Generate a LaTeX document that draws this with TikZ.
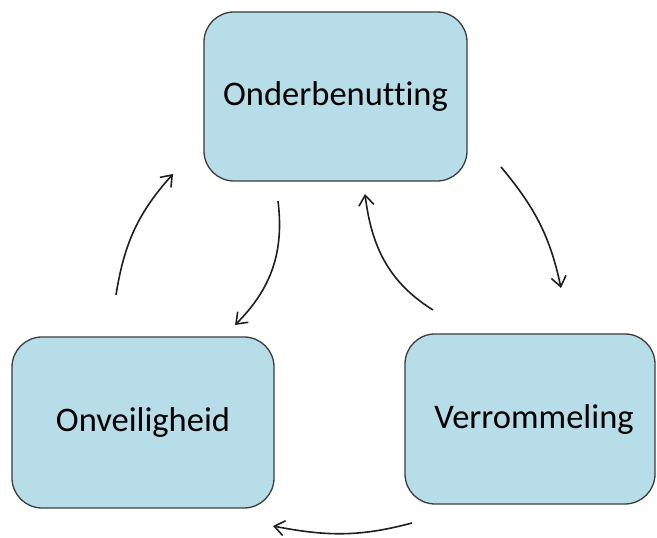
\documentclass[tikz,border=0pt]{standalone}
\usepackage{fontspec}
\setmainfont{Carlito}[RawFeature=-liga]
\usetikzlibrary{arrows.meta}
\definecolor{boxfill}{HTML}{B7DDE8}
\definecolor{boxline}{HTML}{3C3C3C}
\definecolor{arrowline}{HTML}{1E1E1E}
\begin{document}
\begin{tikzpicture}[x=1pt,y=1pt,
  stage/.style={draw=boxline, fill=boxfill, line width=1.3pt, rounded corners=30pt,
    inner sep=0pt, font=\fontsize{34.5}{40}\selectfont, text=black},
  cyclearrow/.style={draw=arrowline, line width=1.6pt,
    -{Straight Barb[length=10pt,width=15pt]}}]
  \useasboundingbox (0,0) rectangle (657,538);

  % the three stages of the cycle
  \node[stage, minimum width=263pt, minimum height=169pt] (onder) at (335.5,441.5) {Onderbenutting};
  \node[stage, minimum width=262pt, minimum height=171pt] (onveilig) at (143,115.5) {Onveiligheid};
  \node[stage, minimum width=250pt, minimum height=170pt] (verrom) at (530,119) {\hspace*{8pt}Verrommeling};

  % free ends of the curved arrows
  \coordinate (a1) at (116,243);  \coordinate (a2) at (173,364);
  \coordinate (b1) at (278,337);  \coordinate (b2) at (235,213);
  \coordinate (c1) at (433,228);  \coordinate (c2) at (365,344);
  \coordinate (d1) at (501,371);  \coordinate (d2) at (561,250);
  \coordinate (e1) at (412,15);   \coordinate (e2) at (273,12);

  \draw[cyclearrow] (a1) to[out=81, in=228] (a2);
  \draw[cyclearrow] (b1) to[out=-83, in=45] (b2);
  \draw[cyclearrow] (c1) to[out=148, in=-83] (c2);
  \draw[cyclearrow] (d1) to[out=-50, in=102] (d2);
  \draw[cyclearrow] (e1) to[out=195, in=-11] (e2);
\end{tikzpicture}
\end{document}
